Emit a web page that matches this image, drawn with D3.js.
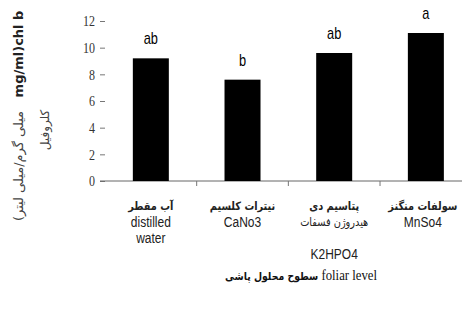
<!DOCTYPE html>
<html>
<head>
<meta charset="utf-8">
<script src="https://cdn.jsdelivr.net/npm/d3@7"></script>
<style>
  body { margin: 0; background: #fff; }
  svg { display: block; }
</style>
</head>
<body>
<svg id="chart" width="462" height="311"></svg>
<script>
// chart data
let categories = ["distilled water", "CaNo3", "K2HPO4", "MnSo4"]
let labelLines = [
    [["آب مقطر", "fa"], ["distilled", "en"], ["water", "en"]],
    [["نیترات کلسیم", "fa"], ["CaNo3", "en"]],
    [["پتاسیم دی", "fa"], ["هیدروژن فسفات", "fa"], ["K2HPO4", "en"]],
    [["سولفات منگنز", "fa"], ["MnSo4", "en"]]
]
let chlValues = [9.2, 7.6, 9.6, 11.1]
let letters = ["ab", "b", "ab", "a"]
let yTicks = [0, 2, 4, 6, 8, 10, 12]

let svg = d3.select("#chart")

let plotVars = ({
    left: 105,
    right: 471.7,
    top: 21,
    bottom: 181
})

// narrow fonts are not installed, so squeeze text horizontally
let squeeze = 0.8

// scales
let xScale = d3.scaleBand()
    .range([plotVars.left, plotVars.right])
    .domain(categories)
    .padding(0)

let yScale = d3.scaleLinear()
    .range([plotVars.bottom, plotVars.top])
    .domain([0, 12])

let barWidth = 36

// y axis
let yAxis = d3.axisLeft(yScale)
    .tickValues(yTicks)
    .tickSize(5)
    .tickPadding(0)
    .tickFormat("")

let yAxisGroup = svg.append("g")
    .attr("class", "y-axis")
    .attr("transform", "translate(" + (plotVars.left) + ",0)")
    .call(yAxis)

yAxisGroup.select(".domain").remove()
yAxisGroup.selectAll("line").attr("stroke", "#777")

svg.selectAll("text.ytick")
    .data(yTicks)
    .enter()
    .append("text")
    .attr("class", "ytick")
    .attr("transform", function (d) { return "translate(95," + yScale(d) + ") scale(" + squeeze + ",1)" })
    .attr("dy", "0.35em")
    .style("text-anchor", "end")
    .style("font-family", "'Liberation Serif', serif")
    .style("font-size", "15px")
    .attr("fill", "#333")
    .text(function (d) { return d })

// x axis line and category separators
let xAxis = d3.axisBottom(xScale)
    .tickSize(0)
    .tickFormat("")

let xAxisGroup = svg.append("g")
    .attr("class", "x-axis")
    .attr("transform", "translate(0," + plotVars.bottom + ")")
    .call(xAxis)

xAxisGroup.select(".domain")
    .attr("d", "M" + (plotVars.left - 5) + ",0H" + plotVars.right)
    .attr("stroke", "#666")

svg.append("g")
    .selectAll("line")
    .data(categories.slice(1))
    .enter()
    .append("line")
    .attr("x1", function (d) { return xScale(d) })
    .attr("x2", function (d) { return xScale(d) })
    .attr("y1", plotVars.bottom)
    .attr("y2", plotVars.bottom + 5)
    .attr("stroke", "#777")

// bars
svg.selectAll("rect.bar")
    .data(chlValues)
    .enter()
    .append("rect")
    .attr("class", "bar")
    .attr("x", function (d, i) { return xScale(categories[i]) + xScale.bandwidth() / 2 - barWidth / 2 })
    .attr("y", function (d) { return yScale(d) })
    .attr("width", barWidth)
    .attr("height", function (d) { return plotVars.bottom - yScale(d) })
    .style("fill", "#000")

// significance letters
svg.selectAll("text.letter")
    .data(chlValues)
    .enter()
    .append("text")
    .attr("class", "letter")
    .attr("transform", function (d, i) {
        return "translate(" + (xScale(categories[i]) + xScale.bandwidth() / 2) + "," + (yScale(d) - 14) + ") scale(" + squeeze + ",1)"
    })
    .style("text-anchor", "middle")
    .style("font-family", "'Liberation Sans', sans-serif")
    .style("font-size", "16px")
    .text(function (d, i) { return letters[i] })

// category labels
let lineY = [206, 222, 238]
labelLines.forEach(function (lines, i) {
    let cx = xScale(categories[i]) + xScale.bandwidth() / 2
    if (i == 3) cx = cx - 3
    lines.forEach(function (ln, j) {
        let y = lineY[j]
        if (i == 2 && j == 2) y = 254
        let fa = ln[1] == "fa"
        svg.append("text")
            .attr("transform", "translate(" + cx + "," + y + ") scale(" + (fa ? 0.85 : squeeze) + ",1)")
            .attr("dy", "0.35em")
            .style("text-anchor", "middle")
            .style("font-family", fa ? "'DejaVu Sans', sans-serif" : "'Liberation Sans', sans-serif")
            .style("font-size", fa ? "11.5px" : "15px")
            .style("font-weight", fa && j == 0 ? "bold" : "normal")
            .attr("fill", "#222")
            .text(ln[0])
    })
})

// x axis title
let xTitle = svg.append("text")
    .attr("transform", "translate(301,274) scale(0.85,1)")
    .attr("dy", "0.35em")
    .style("text-anchor", "middle")
    .attr("fill", "#111")
xTitle.append("tspan")
    .style("font-family", "'DejaVu Sans', sans-serif")
    .style("font-size", "11px")
    .style("font-weight", "bold")
    .text("سطوح محلول پاشی")
xTitle.append("tspan")
    .style("font-family", "'Liberation Serif', serif")
    .style("font-size", "15px")
    .text(" foliar level")

// y axis title (rotated)
svg.append("text")
    .attr("transform", "translate(18,54) rotate(-90)")
    .attr("dy", "0.35em")
    .style("text-anchor", "middle")
    .style("font-family", "'DejaVu Sans', sans-serif")
    .style("font-size", "13px")
    .style("font-weight", "bold")
    .attr("fill", "#222")
    .text("mg/ml)chl b")

svg.append("text")
    .attr("transform", "translate(18,166) rotate(-90)")
    .attr("dy", "0.35em")
    .style("text-anchor", "middle")
    .style("font-family", "'DejaVu Sans', sans-serif")
    .style("font-size", "13px")
    .attr("fill", "#444")
    .text("(میلی گرم/میلی لیتر")

svg.append("text")
    .attr("transform", "translate(45,130) rotate(-90)")
    .attr("dy", "0.35em")
    .style("text-anchor", "middle")
    .style("font-family", "'DejaVu Sans', sans-serif")
    .style("font-size", "12px")
    .attr("fill", "#444")
    .text("کلروفیل")
</script>
</body>
</html>
